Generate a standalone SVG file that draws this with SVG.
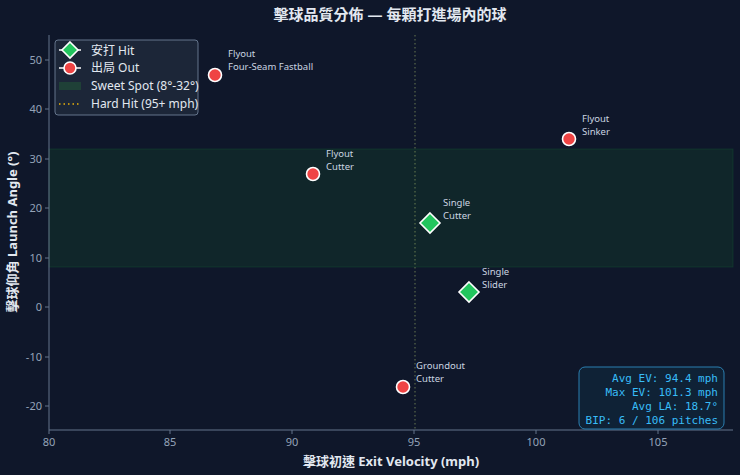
<svg xmlns="http://www.w3.org/2000/svg" width="740" height="475" viewBox="0 0 740 475">
<style>
text{font-family:"Noto Sans","Noto Sans CJK TC",sans-serif}
.tick{fill:#94a3b8;font-size:11px}
.ax{stroke:#64748b;stroke-width:1}
.lbl{fill:#cbd5e1;font-size:9.5px}
.out{fill:#ef4444;stroke:#fff;stroke-width:1.6}
.hit{fill:#22c55e;stroke:#fff;stroke-width:1.6}
.mono{font-family:"DejaVu Sans Mono",monospace;fill:#38bdf8;font-size:11px}
</style>
<rect width="740" height="475" fill="#0f172a"/>
<text x="390" y="20" text-anchor="middle" fill="#e2e8f0" font-size="15" font-weight="bold">擊球品質分佈 — 每顆打進場內的球</text>
<rect x="49" y="149" width="684" height="118" fill="#14532d" fill-opacity="0.25" stroke="#166534" stroke-opacity="0.3"/>
<line x1="415" y1="35" x2="415" y2="430" stroke="#a3b86b" stroke-opacity="0.6" stroke-dasharray="1.5,2.5"/>
<g id="axes">
<line class="ax" x1="49" y1="35" x2="49" y2="430"/>
<line class="ax" x1="49" y1="430" x2="733" y2="430"/>
<g class="ax">
<line x1="45" y1="60" x2="49" y2="60"/><line x1="45" y1="109" x2="49" y2="109"/><line x1="45" y1="159" x2="49" y2="159"/><line x1="45" y1="208" x2="49" y2="208"/><line x1="45" y1="258" x2="49" y2="258"/><line x1="45" y1="307" x2="49" y2="307"/><line x1="45" y1="357" x2="49" y2="357"/><line x1="45" y1="406" x2="49" y2="406"/>
<line x1="49" y1="430" x2="49" y2="434"/><line x1="170" y1="430" x2="170" y2="434"/><line x1="292" y1="430" x2="292" y2="434"/><line x1="414" y1="430" x2="414" y2="434"/><line x1="536" y1="430" x2="536" y2="434"/><line x1="658" y1="430" x2="658" y2="434"/>
</g>
<g class="tick" text-anchor="end">
<text x="42" y="64">50</text><text x="42" y="113">40</text><text x="42" y="163">30</text><text x="42" y="212">20</text><text x="42" y="262">10</text><text x="42" y="311">0</text><text x="42" y="361">-10</text><text x="42" y="410">-20</text>
</g>
<g class="tick" text-anchor="middle">
<text x="49" y="446">80</text><text x="170" y="446">85</text><text x="292" y="446">90</text><text x="414" y="446">95</text><text x="536" y="446">100</text><text x="658" y="446">105</text>
</g>
<text x="391" y="466" text-anchor="middle" fill="#e2e8f0" font-size="13" font-weight="bold">擊球初速 Exit Velocity (mph)</text>
<text transform="translate(17,232) rotate(-90)" text-anchor="middle" fill="#e2e8f0" font-size="13" font-weight="bold">擊球仰角 Launch Angle (°)</text>
</g>
<g id="p1"><circle class="out" cx="215" cy="75" r="6.5"/><text class="lbl" x="228" y="57">Flyout</text><text class="lbl" x="228" y="70">Four-Seam Fastball</text></g>
<g id="p2"><circle class="out" cx="569" cy="139" r="6.5"/><text class="lbl" x="582" y="122">Flyout</text><text class="lbl" x="582" y="135">Sinker</text></g>
<g id="p3"><circle class="out" cx="313" cy="174" r="6.5"/><text class="lbl" x="326" y="157">Flyout</text><text class="lbl" x="326" y="170">Cutter</text></g>
<g id="p4"><path class="hit" d="M430 213 L440 223 L430 233 L420 223Z"/><text class="lbl" x="443" y="206">Single</text><text class="lbl" x="443" y="219">Cutter</text></g>
<g id="p5"><path class="hit" d="M469 282 L479 292 L469 302 L459 292Z"/><text class="lbl" x="482" y="275">Single</text><text class="lbl" x="482" y="288">Slider</text></g>
<g id="p6"><circle class="out" cx="403" cy="387" r="6.5"/><text class="lbl" x="416" y="369">Groundout</text><text class="lbl" x="416" y="382">Cutter</text></g>
<g id="legend">
<rect x="55" y="40" width="143" height="75" rx="3" fill="#1e293b" fill-opacity="0.85" stroke="#64748b"/>
<line x1="59" y1="50" x2="81" y2="50" stroke="#fff" stroke-width="1.5"/><path class="hit" d="M70 42 L78 50 L70 58 L62 50Z"/>
<text x="91" y="55" fill="#e2e8f0" font-size="12">安打 Hit</text>
<line x1="59" y1="68" x2="81" y2="68" stroke="#fff" stroke-width="1.5"/><circle class="out" cx="70" cy="68" r="6"/>
<text x="91" y="72" fill="#e2e8f0" font-size="12">出局 Out</text>
<rect x="59" y="82" width="22" height="8" fill="#1f4037"/>
<text x="91" y="90" fill="#e2e8f0" font-size="12">Sweet Spot (8°-32°)</text>
<line x1="59" y1="104" x2="81" y2="104" stroke="#eab308" stroke-width="1.5" stroke-dasharray="1.5,3"/>
<text x="91" y="108" fill="#e2e8f0" font-size="12">Hard Hit (95+ mph)</text>
</g>
<g id="stats">
<rect x="579" y="367" width="145" height="62" rx="6" fill="#0f2236" stroke="#2b7fb0"/>
<text class="mono" text-anchor="end" x="718" y="382">Avg EV: 94.4 mph</text>
<text class="mono" text-anchor="end" x="718" y="396">Max EV: 101.3 mph</text>
<text class="mono" text-anchor="end" x="718" y="410">Avg LA: 18.7°</text>
<text class="mono" text-anchor="end" x="718" y="424">BIP: 6 / 106 pitches</text>
</g>
</svg>
